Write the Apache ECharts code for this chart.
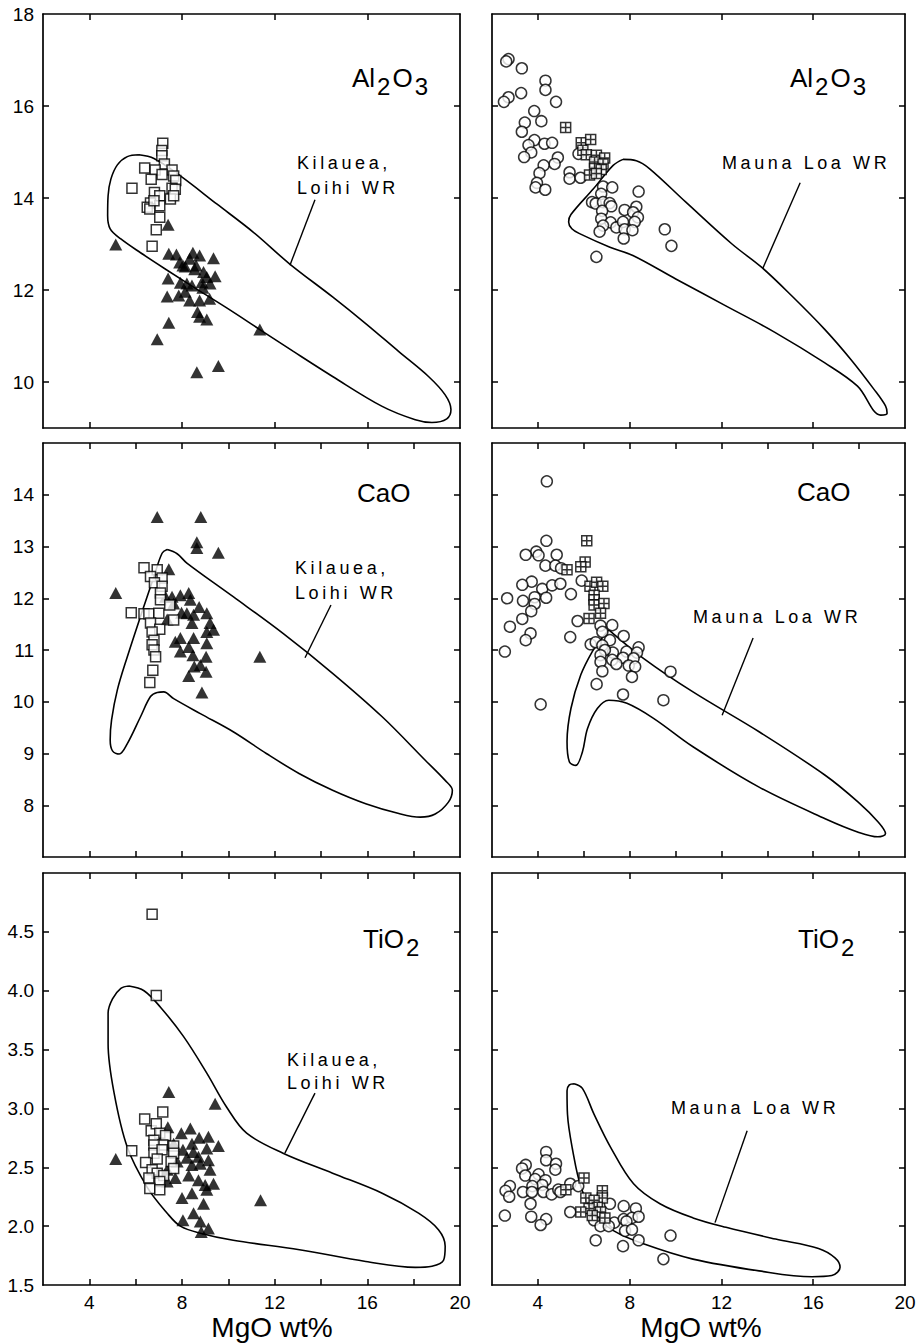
<!DOCTYPE html>
<html>
<head>
<meta charset="utf-8">
<script src="https://cdn.jsdelivr.net/npm/echarts@6/dist/echarts.min.js"></script>
<style>
  html, body { margin: 0; padding: 0; background: #fff; }
  #chart { width: 920px; height: 1343px; }
  /* envelope captions are set with wide letter spacing */
  #chart text[style*="sans-serif"] { letter-spacing: 3.6px; }
</style>
</head>
<body>
<div id="chart"></div>
<script>
// ---- axis ticks -------------------------------------------------------
const mgoLabels = [4, 8, 12, 16, 20];
const mgoTicksCoarse = [4, 8, 12, 16];
const mgoTicksFine = [4, 6, 8, 10, 12, 14, 16, 18];
const alTicks = [10, 12, 14, 16, 18];
const caTicks = [8, 9, 10, 11, 12, 13, 14];
const tiTicks = [1.5, 2.0, 2.5, 3.0, 3.5, 4.0, 4.5];

// ---- Al2O3 vs MgO : Kilauea / Loihi ------------------------------------
const alKilSquares = [[7.17,15.19],[7.13,15.03],[7.13,14.92],[7.24,14.74],[6.39,14.65],[6.84,14.61],[7.57,14.61],[6.67,14.41],[7.14,14.51],[7.64,14.48],[7.73,14.38],[5.84,14.21],[6.81,14.12],[7.04,14.05],[7.57,14.21],[7.71,14.19],[7.50,13.98],[7.64,14.05],[6.64,13.89],[6.50,13.80],[7.04,13.83],[6.61,13.76],[7.04,13.58],[6.89,13.31],[6.71,12.95],[6.79,13.94]];
const alKilTriangles = [[5.14,12.99],[7.40,13.42],[7.43,12.79],[7.76,12.77],[7.90,12.60],[8.04,12.53],[8.47,12.81],[8.76,12.75],[8.33,12.68],[9.36,12.69],[8.14,12.51],[8.61,12.53],[8.93,12.39],[9.07,12.28],[9.43,12.30],[8.86,12.17],[9.21,12.14],[7.93,12.16],[8.21,12.14],[8.43,12.10],[7.40,12.25],[7.86,11.88],[7.36,11.86],[8.33,11.77],[8.76,11.77],[9.19,11.81],[8.14,11.96],[8.67,11.52],[8.76,11.42],[9.07,11.36],[7.43,11.29],[6.93,10.93],[11.36,11.14],[8.64,10.21],[9.57,10.35],[8.90,12.05],[8.55,12.45]];
const alKilEnvelope = [[6.14,14.94],[6.79,14.86],[7.93,14.48],[9.50,13.87],[11.07,13.26],[12.64,12.57],[14.50,11.85],[15.93,11.27],[17.36,10.66],[18.64,10.12],[19.36,9.72],[19.61,9.40],[19.43,9.20],[18.79,9.12],[18.07,9.18],[16.64,9.47],[14.50,10.12],[12.79,10.67],[11.36,11.14],[9.93,11.61],[8.79,11.97],[7.36,12.43],[6.21,12.81],[5.36,13.11],[4.90,13.33],[4.79,13.62],[4.81,14.05],[4.93,14.41],[5.21,14.72],[5.64,14.90],[6.14,14.94]];
const alKilLeader = [[13.74,13.96],[12.66,12.54]];

// ---- Al2O3 vs MgO : Mauna Loa ------------------------------------------
const alMlCircles = [[2.72,17.02],[2.62,16.97],[3.30,16.82],[4.33,16.55],[4.33,16.35],[3.27,16.28],[2.72,16.19],[2.52,16.09],[4.79,16.09],[3.84,15.89],[4.15,15.67],[3.43,15.64],[3.30,15.44],[3.85,15.26],[3.59,15.15],[4.29,15.18],[4.62,15.20],[3.71,14.99],[3.40,14.89],[4.87,14.88],[4.73,14.74],[4.25,14.71],[4.07,14.54],[3.96,14.33],[3.90,14.23],[4.32,14.18],[5.38,14.56],[5.38,14.42],[5.86,14.44],[5.77,14.96],[6.84,14.25],[7.24,14.23],[6.76,14.09],[6.36,13.91],[6.52,13.88],[6.84,13.91],[7.13,13.89],[7.20,13.82],[6.80,13.72],[7.78,13.74],[8.29,13.81],[8.39,14.14],[8.15,13.69],[8.36,13.58],[6.76,13.55],[7.17,13.47],[7.42,13.36],[7.71,13.48],[8.22,13.48],[6.84,13.40],[6.69,13.27],[7.78,13.32],[8.12,13.30],[7.74,13.12],[9.53,13.32],[9.82,12.96],[6.55,12.72]];
const alMlCrossed = [[5.21,15.53],[5.89,15.20],[6.30,15.27],[5.96,15.04],[6.11,14.94],[6.55,14.93],[6.91,14.87],[6.47,14.78],[6.84,14.74],[6.47,14.64],[6.76,14.62],[6.25,14.50],[6.55,14.53]];
const alMlEnvelope = [[7.71,14.84],[8.29,14.81],[8.86,14.64],[10.45,13.91],[12.46,13.00],[13.76,12.49],[15.05,11.88],[16.49,11.15],[17.64,10.49],[18.65,9.84],[19.15,9.48],[19.22,9.32],[18.94,9.28],[17.93,9.91],[16.49,10.42],[14.33,11.08],[12.17,11.66],[10.01,12.24],[8.14,12.75],[7.14,12.93],[5.84,13.22],[5.48,13.33],[5.34,13.48],[5.44,13.64],[6.42,14.20],[7.28,14.71],[7.71,14.84]];
const alMlLeader = [[15.43,14.33],[13.81,12.48]];

// ---- CaO vs MgO : Kilauea / Loihi ---------------------------------------
const caKilSquares = [[6.36,12.59],[6.93,12.55],[6.64,12.42],[7.14,12.39],[6.81,12.30],[7.14,12.23],[7.07,12.10],[7.07,11.97],[5.81,11.72],[6.36,11.70],[6.57,11.70],[7.00,11.71],[7.47,11.87],[7.64,11.58],[6.64,11.52],[7.04,11.40],[6.71,11.35],[6.79,11.19],[6.71,11.10],[6.79,11.00],[6.86,10.87],[6.74,10.61],[6.61,10.37]];
const caKilTriangles = [[5.14,12.10],[6.93,13.57],[8.81,13.57],[8.64,13.08],[8.64,12.97],[9.57,12.88],[7.43,12.56],[7.29,12.03],[7.57,12.03],[7.93,12.06],[8.29,12.10],[8.36,11.97],[7.64,11.90],[8.74,11.83],[9.07,11.71],[7.98,11.72],[8.21,11.71],[8.50,11.68],[7.36,11.59],[8.43,11.52],[9.21,11.52],[9.36,11.39],[9.07,11.35],[7.93,11.23],[7.71,11.16],[8.50,11.23],[9.07,11.13],[8.29,11.06],[7.93,10.97],[8.47,10.90],[9.04,10.87],[8.53,10.68],[8.79,10.71],[9.04,10.58],[8.29,10.50],[11.36,10.87],[8.86,10.18]];
const caKilEnvelope = [[7.36,12.94],[7.79,12.86],[8.21,12.68],[10.21,12.03],[12.36,11.32],[14.50,10.55],[16.64,9.71],[18.50,8.87],[19.36,8.48],[19.67,8.29],[19.50,8.06],[18.93,7.83],[18.29,7.77],[17.36,7.84],[15.93,8.03],[14.50,8.29],[13.07,8.61],[11.64,9.00],[10.21,9.42],[8.79,9.77],[7.64,10.06],[7.21,10.19],[6.93,10.18],[6.64,10.10],[6.21,9.71],[5.64,9.19],[5.29,8.99],[5.00,9.05],[4.90,9.26],[4.96,9.65],[5.21,10.23],[5.64,10.87],[6.21,11.65],[6.79,12.42],[7.14,12.87],[7.36,12.94]];
const caKilLeader = [[14.43,11.87],[13.31,10.85]];

// ---- CaO vs MgO : Mauna Loa ---------------------------------------------
const caMlCircles = [[4.39,14.26],[4.37,13.11],[3.93,12.90],[3.47,12.84],[4.03,12.83],[4.82,12.84],[4.33,12.63],[4.76,12.63],[5.01,12.58],[3.73,12.32],[3.32,12.26],[4.19,12.18],[4.62,12.25],[4.98,12.28],[5.91,12.34],[5.44,12.08],[2.66,12.00],[3.86,12.02],[4.36,12.01],[3.35,11.95],[3.86,11.89],[3.71,11.75],[3.32,11.60],[5.73,11.56],[2.78,11.45],[3.68,11.32],[3.47,11.19],[5.41,11.25],[2.56,10.97],[4.12,9.95],[6.73,11.47],[7.24,11.48],[6.81,11.35],[6.30,11.11],[6.52,11.15],[7.14,11.19],[6.81,11.09],[7.74,11.27],[8.39,11.05],[7.86,10.97],[8.32,10.95],[7.27,10.95],[6.92,11.00],[6.73,10.90],[7.71,10.85],[8.17,10.84],[7.24,10.81],[7.42,10.73],[6.73,10.77],[7.96,10.70],[8.24,10.68],[6.81,10.59],[8.10,10.48],[9.78,10.58],[6.56,10.34],[7.71,10.14],[9.47,10.03]];
const caMlCrossed = [[6.13,13.11],[6.06,12.70],[5.87,12.61],[5.27,12.55],[6.27,12.23],[6.56,12.31],[6.83,12.23],[6.45,12.06],[6.45,11.97],[6.45,11.87],[6.88,11.90],[6.73,11.71],[6.23,11.61]];
const caMlEnvelope = [[7.09,11.39],[8.60,10.84],[10.76,10.19],[13.64,9.42],[16.52,8.58],[17.96,8.06],[18.82,7.68],[19.15,7.45],[18.82,7.39],[17.96,7.48],[16.52,7.74],[13.64,8.35],[10.76,9.13],[9.04,9.68],[7.88,9.97],[7.09,10.03],[6.59,9.87],[6.16,9.48],[5.94,9.03],[5.65,8.77],[5.37,8.84],[5.27,9.23],[5.44,9.87],[5.87,10.52],[6.37,10.97],[6.73,11.19],[7.09,11.39]];
const caMlLeader = [[13.38,11.23],[12.03,9.74]];

// ---- TiO2 vs MgO : Kilauea / Loihi --------------------------------------
const tiKilSquares = [[6.71,4.65],[6.89,3.96],[7.17,2.97],[6.39,2.91],[6.67,2.81],[6.89,2.87],[7.04,2.79],[7.29,2.77],[6.79,2.73],[7.17,2.69],[6.79,2.69],[7.64,2.68],[5.83,2.64],[6.79,2.62],[7.14,2.65],[7.64,2.62],[6.93,2.57],[6.43,2.54],[7.53,2.55],[6.71,2.48],[6.93,2.45],[7.64,2.49],[6.57,2.41],[7.21,2.43],[7.04,2.38],[6.61,2.32],[7.04,2.31]];
const tiKilTriangles = [[5.14,2.57],[7.43,3.14],[9.43,3.04],[7.39,2.84],[8.36,2.83],[7.97,2.79],[8.74,2.75],[9.14,2.76],[9.57,2.68],[7.64,2.70],[8.43,2.70],[8.04,2.65],[8.49,2.63],[9.07,2.66],[8.71,2.59],[8.21,2.58],[7.79,2.55],[9.14,2.56],[8.79,2.53],[8.43,2.52],[9.21,2.48],[7.36,2.48],[7.71,2.41],[7.36,2.38],[8.29,2.43],[8.71,2.39],[9.00,2.35],[9.36,2.36],[9.07,2.31],[8.00,2.24],[8.43,2.28],[8.93,2.19],[8.50,2.11],[8.04,2.05],[8.79,2.04],[9.14,1.98],[8.83,1.95],[11.39,2.22]];
const tiKilEnvelope = [[5.71,4.04],[6.36,4.00],[7.07,3.86],[8.07,3.61],[9.07,3.30],[9.93,3.01],[10.79,2.79],[12.36,2.62],[14.50,2.45],[16.64,2.28],[18.21,2.11],[19.07,1.97],[19.36,1.83],[19.29,1.71],[18.79,1.66],[18.07,1.65],[15.93,1.70],[13.07,1.80],[10.21,1.88],[8.79,1.94],[7.93,2.00],[7.36,2.11],[6.50,2.33],[5.64,2.67],[5.07,3.13],[4.81,3.55],[4.81,3.81],[5.00,3.93],[5.36,4.02],[5.71,4.04]];
const tiKilLeader = [[13.74,3.13],[12.44,2.62]];

// ---- TiO2 vs MgO : Mauna Loa --------------------------------------------
const tiMlCircles = [[4.36,2.63],[4.36,2.56],[4.79,2.53],[4.76,2.48],[3.47,2.52],[3.31,2.49],[3.45,2.43],[4.03,2.44],[3.88,2.40],[4.33,2.39],[4.19,2.35],[3.76,2.34],[2.78,2.34],[2.59,2.30],[2.75,2.25],[3.35,2.29],[3.74,2.29],[4.24,2.29],[4.60,2.27],[4.89,2.31],[4.98,2.29],[5.41,2.36],[5.76,2.34],[3.68,2.19],[2.56,2.09],[3.71,2.08],[4.36,2.06],[4.12,2.01],[5.41,2.12],[7.14,2.19],[7.74,2.17],[8.27,2.15],[6.45,2.05],[7.33,2.03],[7.74,2.06],[8.10,2.07],[8.39,2.08],[7.86,2.04],[6.73,2.00],[7.09,2.00],[7.80,1.96],[8.10,1.97],[6.52,1.88],[8.39,1.88],[7.71,1.83],[9.78,1.92],[9.47,1.72]];
const tiMlCrossed = [[6.01,2.41],[5.22,2.31],[6.09,2.24],[6.81,2.30],[6.81,2.24],[6.45,2.22],[6.59,2.16],[6.23,2.15],[5.87,2.12],[6.73,2.12],[6.37,2.09],[6.92,2.07]];
const tiMlEnvelope = [[5.58,3.21],[5.94,3.17],[6.45,2.95],[7.17,2.67],[8.17,2.36],[9.32,2.19],[10.76,2.07],[12.20,1.99],[14.36,1.89],[16.23,1.81],[16.95,1.73],[17.17,1.65],[16.81,1.58],[15.94,1.57],[13.64,1.62],[10.76,1.72],[8.60,1.85],[7.31,1.96],[6.45,2.10],[5.88,2.33],[5.52,2.64],[5.29,2.95],[5.27,3.15],[5.37,3.20],[5.58,3.21]];
const tiMlLeader = [[13.12,2.81],[11.72,2.03]];

// ---- layout --------------------------------------------------------------
const FONT = '"Liberation Sans", Arial, Helvetica';
const NOTE_FONT = '"Liberation Sans", sans-serif';
const INK = '#000';
const columns = [{ left: 43, width: 417 }, { left: 492, width: 413 }];
const rows = [{ top: 14, height: 414 }, { top: 443, height: 414 }, { top: 873, height: 412 }];

const panels = [
  { row: 0, col: 0, yMin: 9, yMax: 18, yTicks: alTicks, xTicks: mgoTicksCoarse, oxide: 'al',
    marks: [['tri', alKilTriangles], ['sq', alKilSquares]], envelope: alKilEnvelope, leader: alKilLeader },
  { row: 0, col: 1, yMin: 9, yMax: 18, yTicks: alTicks, xTicks: mgoTicksCoarse, oxide: 'al',
    marks: [['circ', alMlCircles], ['xsq', alMlCrossed]], envelope: alMlEnvelope, leader: alMlLeader },
  { row: 1, col: 0, yMin: 7, yMax: 15, yTicks: caTicks, xTicks: mgoTicksFine, oxide: 'ca',
    marks: [['tri', caKilTriangles], ['sq', caKilSquares]], envelope: caKilEnvelope, leader: caKilLeader },
  { row: 1, col: 1, yMin: 7, yMax: 15, yTicks: caTicks, xTicks: mgoTicksFine, oxide: 'ca',
    marks: [['circ', caMlCircles], ['xsq', caMlCrossed]], envelope: caMlEnvelope, leader: caMlLeader },
  { row: 2, col: 0, yMin: 1.5, yMax: 5, yTicks: tiTicks, xTicks: mgoTicksFine, oxide: 'ti',
    marks: [['tri', tiKilTriangles], ['sq', tiKilSquares]], envelope: tiKilEnvelope, leader: tiKilLeader },
  { row: 2, col: 1, yMin: 1.5, yMax: 5, yTicks: tiTicks, xTicks: mgoTicksCoarse, oxide: 'ti',
    marks: [['circ', tiMlCircles], ['xsq', tiMlCrossed]], envelope: tiMlEnvelope, leader: tiMlLeader }
];

const markerStyles = {
  tri:  { symbol: 'triangle', symbolSize: [13, 12], itemStyle: { color: INK } },
  sq:   { symbol: 'rect', symbolSize: 10, itemStyle: { color: '#fff', borderColor: INK, borderWidth: 1.5 } },
  circ: { symbol: 'circle', symbolSize: 11, itemStyle: { color: '#fff', borderColor: INK, borderWidth: 1.5 } },
  xsq:  { symbol: 'path://M0 0H10V10H0Z M5 0V10 M0 5H10', symbolSize: 10,
          itemStyle: { color: '#fff', borderColor: INK, borderWidth: 1.5 } }
};

const labelStyle = { color: INK, fontSize: 19, fontFamily: FONT };
const frameLine = { lineStyle: { color: INK, width: 1.7 }, onZero: false };

const grid = [], xAxis = [], yAxis = [], series = [];

panels.forEach((p, i) => {
  grid.push({ left: columns[p.col].left, width: columns[p.col].width,
              top: rows[p.row].top, height: rows[p.row].height });
  const showX = p.row === 2;
  const showY = p.col === 0;
  const yFmt = p.oxide === 'ti' ? (v => v.toFixed(1)) : (v => String(v));
  ['bottom', 'top'].forEach(pos => {
    xAxis.push({
      gridIndex: i, type: 'value', min: 2, max: 20, position: pos,
      axisLine: frameLine,
      axisTick: { show: true, inside: true, length: 6, lineStyle: { color: INK, width: 1.5 },
                  customValues: p.xTicks },
      axisLabel: { show: showX && pos === 'bottom', customValues: mgoLabels, margin: 8,
                   ...labelStyle },
      splitLine: { show: false }
    });
  });
  ['left', 'right'].forEach(pos => {
    yAxis.push({
      gridIndex: i, type: 'value', min: p.yMin, max: p.yMax, position: pos,
      axisLine: frameLine,
      axisTick: { show: true, inside: true, length: 6, lineStyle: { color: INK, width: 1.5 },
                  customValues: p.yTicks.filter(v => v > p.yMin && v < p.yMax) },
      axisLabel: { show: showY && pos === 'left', customValues: p.yTicks, margin: 9,
                   formatter: yFmt, ...labelStyle },
      splitLine: { show: false }
    });
  });
  const xi = 2 * i, yi = 2 * i;
  series.push({
    type: 'line', xAxisIndex: xi, yAxisIndex: yi, data: p.envelope, smooth: 0.35,
    symbol: 'none', silent: true, z: 2, lineStyle: { color: INK, width: 1.6 }
  });
  series.push({
    type: 'line', xAxisIndex: xi, yAxisIndex: yi, data: p.leader,
    symbol: 'none', silent: true, z: 2, lineStyle: { color: INK, width: 1.4 }
  });
  p.marks.forEach(([kind, pts]) => {
    series.push({ type: 'scatter', xAxisIndex: xi, yAxisIndex: yi, data: pts, z: 3,
                  ...markerStyles[kind] });
  });
});

// ---- panel texts ---------------------------------------------------------
function titleText(x, y, parts) {
  return {
    type: 'text', x: x, y: y, z: 10,
    style: {
      text: parts, textAlign: 'left', textVerticalAlign: 'middle', fill: INK,
      rich: {
        m: { fontSize: 26, fontFamily: FONT, lineHeight: 40, verticalAlign: 'middle', fill: INK },
        s: { fontSize: 24, fontFamily: FONT, lineHeight: 40, verticalAlign: 'bottom', fill: INK,
             padding: [0, 2, 0, 2] }
      }
    }
  };
}
function plainTitle(x, y, str) {
  return { type: 'text', x: x, y: y, z: 10,
           style: { text: str, fontSize: 26, fontFamily: FONT, fill: INK,
                    textAlign: 'left', textVerticalAlign: 'middle' } };
}
function note(x, y, str) {
  return { type: 'text', x: x, y: y, z: 10,
           style: { text: str, fontSize: 18, fontFamily: NOTE_FONT, fill: INK,
                    textAlign: 'left', textVerticalAlign: 'middle' } };
}
function axisName(x, y) {
  return { type: 'text', x: x, y: y, z: 10,
           style: { text: 'MgO wt%', fontSize: 28, fontFamily: FONT, fill: INK,
                    textAlign: 'center', textVerticalAlign: 'middle' } };
}

const graphic = [
  titleText(352, 78, '{m|Al}{s|2}{m|O}{s|3}'),
  titleText(790, 78, '{m|Al}{s|2}{m|O}{s|3}'),
  plainTitle(357, 493, 'CaO'),
  plainTitle(797, 492, 'CaO'),
  titleText(363, 939, '{m|TiO}{s|2}'),
  titleText(798, 939, '{m|TiO}{s|2}'),
  note(297, 163, 'Kilauea,'), note(297, 188, 'Loihi WR'),
  note(722, 163, 'Mauna Loa WR'),
  note(295, 568, 'Kilauea,'), note(295, 593, 'Loihi WR'),
  note(693, 617, 'Mauna Loa WR'),
  note(287, 1060, 'Kilauea,'), note(287, 1083, 'Loihi WR'),
  note(671, 1108, 'Mauna Loa WR'),
  axisName(272, 1327),
  axisName(701, 1327)
];

const chart = echarts.init(document.getElementById('chart'), null, { renderer: 'svg' });
chart.setOption({
  animation: false,
  backgroundColor: '#fff',
  grid, xAxis, yAxis, series, graphic
});
</script>
</body>
</html>
